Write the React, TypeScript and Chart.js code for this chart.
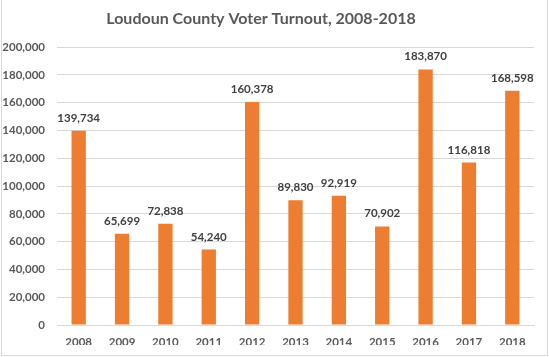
import React, { useEffect, useRef } from "react";
import { Chart, registerables } from "chart.js";

Chart.register(...registerables);

const years = ["2008", "2009", "2010", "2011", "2012", "2013", "2014", "2015", "2016", "2017", "2018"];
const turnout = [139734, 65699, 72838, 54240, 160378, 89830, 92919, 70902, 183870, 116818, 168598];
const titleText = "Loudoun County Voter Turnout, 2008-2018";

const FONT = "Lato, 'Open Sans', sans-serif";

const decorPlugin = {
  id: "decor",
  afterDatasetsDraw(chart: any) {
    const ctx = chart.ctx;
    ctx.save();
    const meta = chart.getDatasetMeta(0);
    ctx.font = `bold 11.5px ${FONT}`;
    ctx.fillStyle = "#404040";
    ctx.textAlign = "center";
    ctx.textBaseline = "bottom";
    meta.data.forEach((bar: any, i: number) => {
      ctx.fillText(turnout[i].toLocaleString("en-US"), bar.x, bar.y - 7);
    });
    ctx.font = `bold 16px ${FONT}`;
    ctx.fillStyle = "#595959";
    ctx.textBaseline = "middle";
    ctx.fillText(titleText, 261, 19);
    ctx.strokeStyle = "#d9d9d9";
    ctx.lineWidth = 1;
    ctx.strokeRect(1.5, -1, chart.width - 3, chart.height - 0.5);
    ctx.restore();
  },
};

export default function App() {
  const ref = useRef<HTMLCanvasElement | null>(null);
  useEffect(() => {
    document.body.style.margin = "0";
    const chart = new Chart(ref.current as HTMLCanvasElement, {
      type: "bar",
      data: {
        labels: years,
        datasets: [
          {
            data: turnout,
            backgroundColor: "#ED7D31",
            barPercentage: 0.33,
            categoryPercentage: 1,
          },
        ],
      },
      options: {
        animation: false,
        responsive: false,
        layout: { padding: { top: 47, right: 15, bottom: 12, left: 0 } },
        plugins: { legend: { display: false }, title: { display: false }, tooltip: { enabled: false } },
        scales: {
          x: {
            grid: { display: false, drawTicks: false },
            border: { color: "#d9d9d9" },
            ticks: { color: "#595959", font: { family: FONT, size: 11.5, weight: "bold" }, padding: 10 },
            afterFit: (s: any) => {
              s.height = 20;
            },
          },
          y: {
            min: 0,
            max: 200000,
            grid: { color: "#d9d9d9", drawTicks: false },
            border: { display: false },
            ticks: {
              stepSize: 20000,
              color: "#595959",
              font: { family: FONT, size: 11.5, weight: "bold" },
              padding: 12,
              callback: (v: any) => Number(v).toLocaleString("en-US"),
            },
            afterFit: (s: any) => {
              s.width = 57;
            },
          },
        },
      },
      plugins: [decorPlugin],
    });
    return () => chart.destroy();
  }, []);
  return (
    <div style={{ position: "absolute", left: 0, top: 0, width: 549, height: 357, background: "#fff" }}>
      <canvas ref={ref} width={549} height={357} style={{ display: "block" }} />
    </div>
  );
}
